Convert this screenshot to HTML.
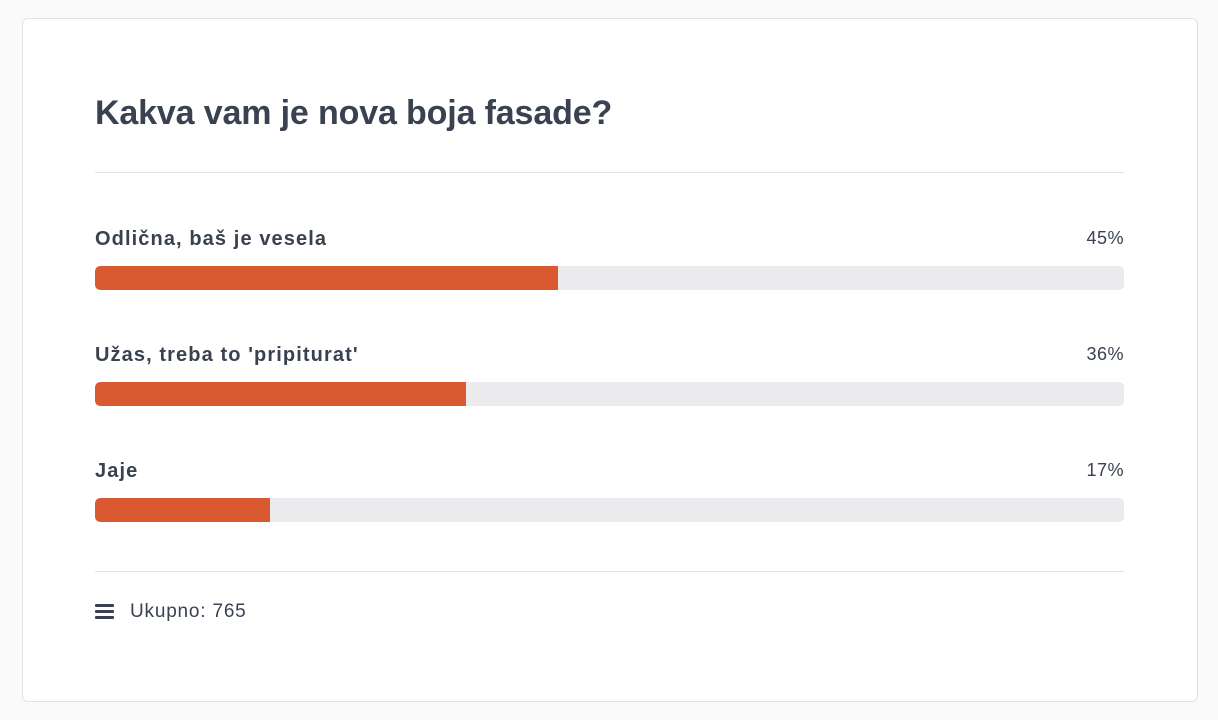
<!DOCTYPE html>
<html><head><style>
body{margin:0;width:1218px;height:720px;background:#fafafa;font-family:"Liberation Sans",sans-serif;color:#3a4150;position:relative;overflow:hidden}
.card{position:absolute;left:22px;top:18px;width:1174px;height:682px;background:#fff;border:1px solid #e2e2e2;border-radius:6px}
.a{position:absolute}
h1{position:absolute;left:95px;top:93px;margin:0;font-size:34px;font-weight:bold;line-height:40px;letter-spacing:-0.15px}
.hr{position:absolute;left:95px;width:1029px;height:1px;background:#e3e3e3}
.lab{position:absolute;left:95px;font-size:20px;font-weight:bold;line-height:22px;letter-spacing:1.1px}
.pct{position:absolute;right:94px;font-size:18px;line-height:22px;letter-spacing:0.5px}
.track{position:absolute;left:95px;width:1029px;height:24px;background:#ebebee;border-radius:5px;overflow:hidden}
.fill{height:100%;background:#d95a31;border-radius:5px 0 0 5px}
</style></head><body>
<div class="card"></div>
<h1>Kakva vam je nova boja fasade?</h1>
<div class="hr" style="top:172px"></div>
<div class="lab" style="top:228px">Odlična, baš je vesela</div><div class="pct" style="top:227px">45%</div>
<div class="track" style="top:266px"><div class="fill" style="width:463px"></div></div>
<div class="lab" style="top:344px">Užas, treba to 'pripiturat'</div><div class="pct" style="top:343px">36%</div>
<div class="track" style="top:382px"><div class="fill" style="width:371px"></div></div>
<div class="lab" style="top:460px">Jaje</div><div class="pct" style="top:459px">17%</div>
<div class="track" style="top:498px"><div class="fill" style="width:175px"></div></div>
<div class="hr" style="top:571px"></div>
<div class="a" style="left:95px;top:604px;width:19px;height:3px;background:#3a4150;border-radius:1px"></div>
<div class="a" style="left:95px;top:610px;width:19px;height:3px;background:#3a4150;border-radius:1px"></div>
<div class="a" style="left:95px;top:616px;width:19px;height:3px;background:#3a4150;border-radius:1px"></div>
<div class="a" style="left:130px;top:601px;font-size:19px;line-height:22px;letter-spacing:0.8px">Ukupno: 765</div>
</body></html>
